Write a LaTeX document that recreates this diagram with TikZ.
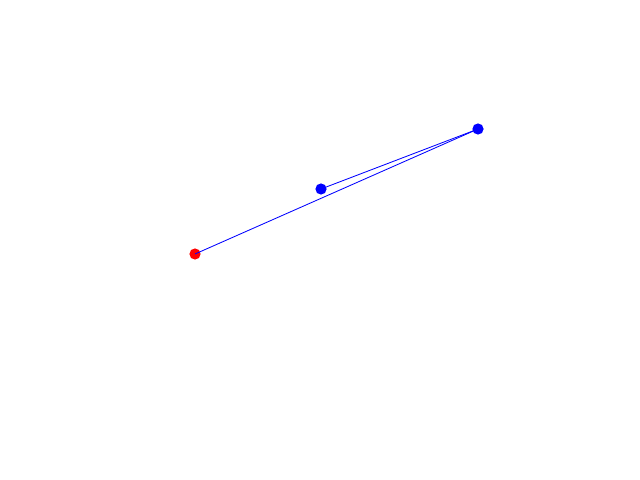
\documentclass[tikz,border=0pt]{standalone}
\usetikzlibrary{positioning}
\definecolor{ptred}{RGB}{255, 0, 0}
\definecolor{ptblue}{RGB}{0, 0, 255}

\begin{document}
\begin{tikzpicture}[x=0.025cm, y=-0.025cm,
      startpt/.style={circle, fill=ptred, inner sep=0pt, minimum size=0.28cm},
      pt/.style={circle, fill=ptblue, inner sep=0pt, minimum size=0.28cm},
      edge/.style={-, ptblue, line width=0.6pt}]

      \useasboundingbox (0,0) rectangle (640,480);

      % Points
      \node[startpt] (p0) at (195, 254) {};
      \node[pt] (p1) at (321, 189) {};
      \node[pt] (p2) at (478, 129) {};

      % Aretes
      \draw[edge] (p0.center) -- (p2.center);
      \draw[edge] (p2.center) -- (p1.center);
    \end{tikzpicture}
\end{document}
